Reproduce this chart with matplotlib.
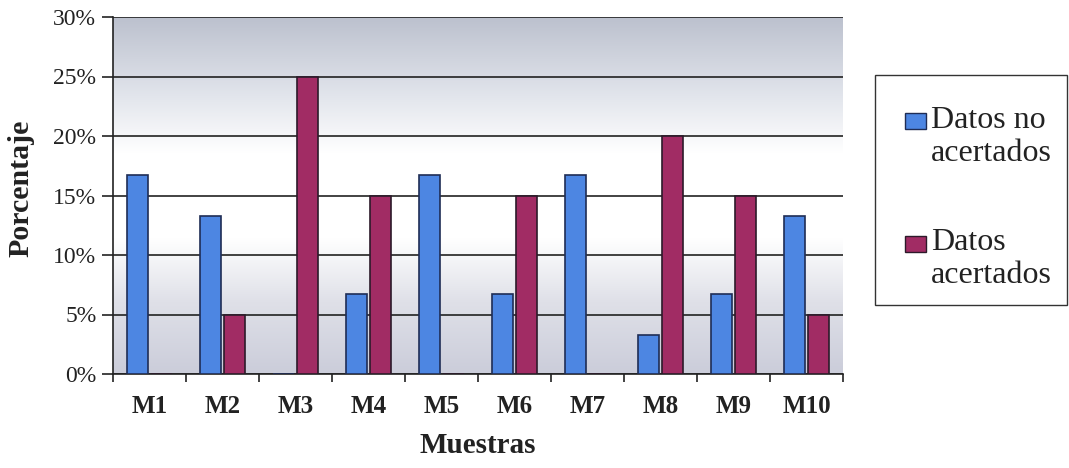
import numpy as np
import matplotlib
matplotlib.use("Agg")
import matplotlib.pyplot as plt
from matplotlib.colors import LinearSegmentedColormap
from matplotlib.patches import Rectangle

categories = ["M1", "M2", "M3", "M4", "M5", "M6", "M7", "M8", "M9", "M10"]
no_acertados = [16.7, 13.3, 0, 6.7, 16.7, 6.7, 16.7, 3.3, 6.7, 13.3]
acertados = [0, 5, 25, 15, 0, 15, 0, 20, 15, 5]
yticks = [0, 5, 10, 15, 20, 25, 30]
ytick_labels = ["0%", "5%", "10%", "15%", "20%", "25%", "30%"]
series_names = [["Datos no", "acertados"], ["Datos", "acertados"]]
colors = ["#4d86e2", "#a12c64"]
edges = ["#1f2d55", "#2c1a2a"]

plt.rcParams['font.family'] = ['Liberation Serif', 'DejaVu Serif']

W, H = 1069, 468
fig = plt.figure(figsize=(W / 100, H / 100), dpi=100)
ax = fig.add_axes([113 / W, 1 - 374 / H, (843 - 113) / W, (374 - 17) / H])

# gradient background
cmap = LinearSegmentedColormap.from_list("bg", [
    (0.0, "#cbcdda"), (0.2, "#dfe0e8"), (0.38, "#ffffff"),
    (0.62, "#ffffff"), (0.78, "#e2e5ec"), (1.0, "#bcc1ce")])
grad = np.linspace(0, 1, 256).reshape(-1, 1)
ax.imshow(grad, aspect='auto', cmap=cmap, origin='lower',
          extent=[-0.5, len(categories) - 0.5, 0, 30], zorder=0)

x = np.arange(len(categories))
w = 0.29
off = 0.165
ax.bar(x - off, no_acertados, w, color=colors[0], edgecolor=edges[0], linewidth=1.2, zorder=3)
ax.bar(x + off, acertados, w, color=colors[1], edgecolor=edges[1], linewidth=1.2, zorder=3)

ax.set_xlim(-0.5, len(categories) - 0.5)
ax.set_ylim(0, 30)
ax.set_yticks(yticks)
ax.set_yticklabels(ytick_labels, fontsize=17, color="#222222")
ax.yaxis.grid(True, color="#222222", linewidth=1.2)
for gl in ax.get_ygridlines():
    gl.set_zorder(1)

ax.set_xticks(np.arange(-0.5, len(categories)))
ax.set_xticklabels([])
ax.set_xticks(x, minor=True)
ax.set_xticklabels(categories, minor=True, fontsize=18, fontweight='bold', color="#222222")
ax.tick_params(axis='x', which='minor', length=0, pad=15)
ax.tick_params(axis='x', which='major', length=6, width=1.2, direction='out', color="#222222")
ax.tick_params(axis='y', length=8, width=1.2, direction='out', pad=4, color="#222222")

for s in ['top', 'right']:
    ax.spines[s].set_visible(False)
for s in ['left', 'bottom']:
    ax.spines[s].set_linewidth(1.2)
    ax.spines[s].set_color("#222222")

ax.set_xlabel("Muestras", fontsize=21, fontweight='bold', color="#222222", labelpad=10)
ax.set_ylabel("Porcentaje", fontsize=21.5, fontweight='bold', color="#222222")
ax.yaxis.set_label_coords((34 - 113) / 730, (374 - 188) / 357)

# legend (drawn manually to match layout)
def fx(px):
    return px / W

def fy(py):
    return 1 - py / H

fig.patches.append(Rectangle((fx(875), fy(305)), fx(1067) - fx(875), fy(75) - fy(305),
                             transform=fig.transFigure, facecolor="white",
                             edgecolor="#333333", linewidth=1.0, zorder=5))
handle_tops = [113, 236]
baselines = [(128, 161), (250, 283)]
for i in range(2):
    t = handle_tops[i]
    fig.patches.append(Rectangle((fx(905), fy(t + 16)), fx(21), 16 / H,
                                 transform=fig.transFigure, facecolor=colors[i],
                                 edgecolor=edges[i], linewidth=1.0, zorder=6))
    fig.text(fx(931), fy(baselines[i][0]), series_names[i][0], fontsize=23,
             va='baseline', ha='left', color="#222222", zorder=7)
    fig.text(fx(931), fy(baselines[i][1]), series_names[i][1], fontsize=23,
             va='baseline', ha='left', color="#222222", zorder=7)

fig.savefig("out.png", dpi=100, facecolor="white")
